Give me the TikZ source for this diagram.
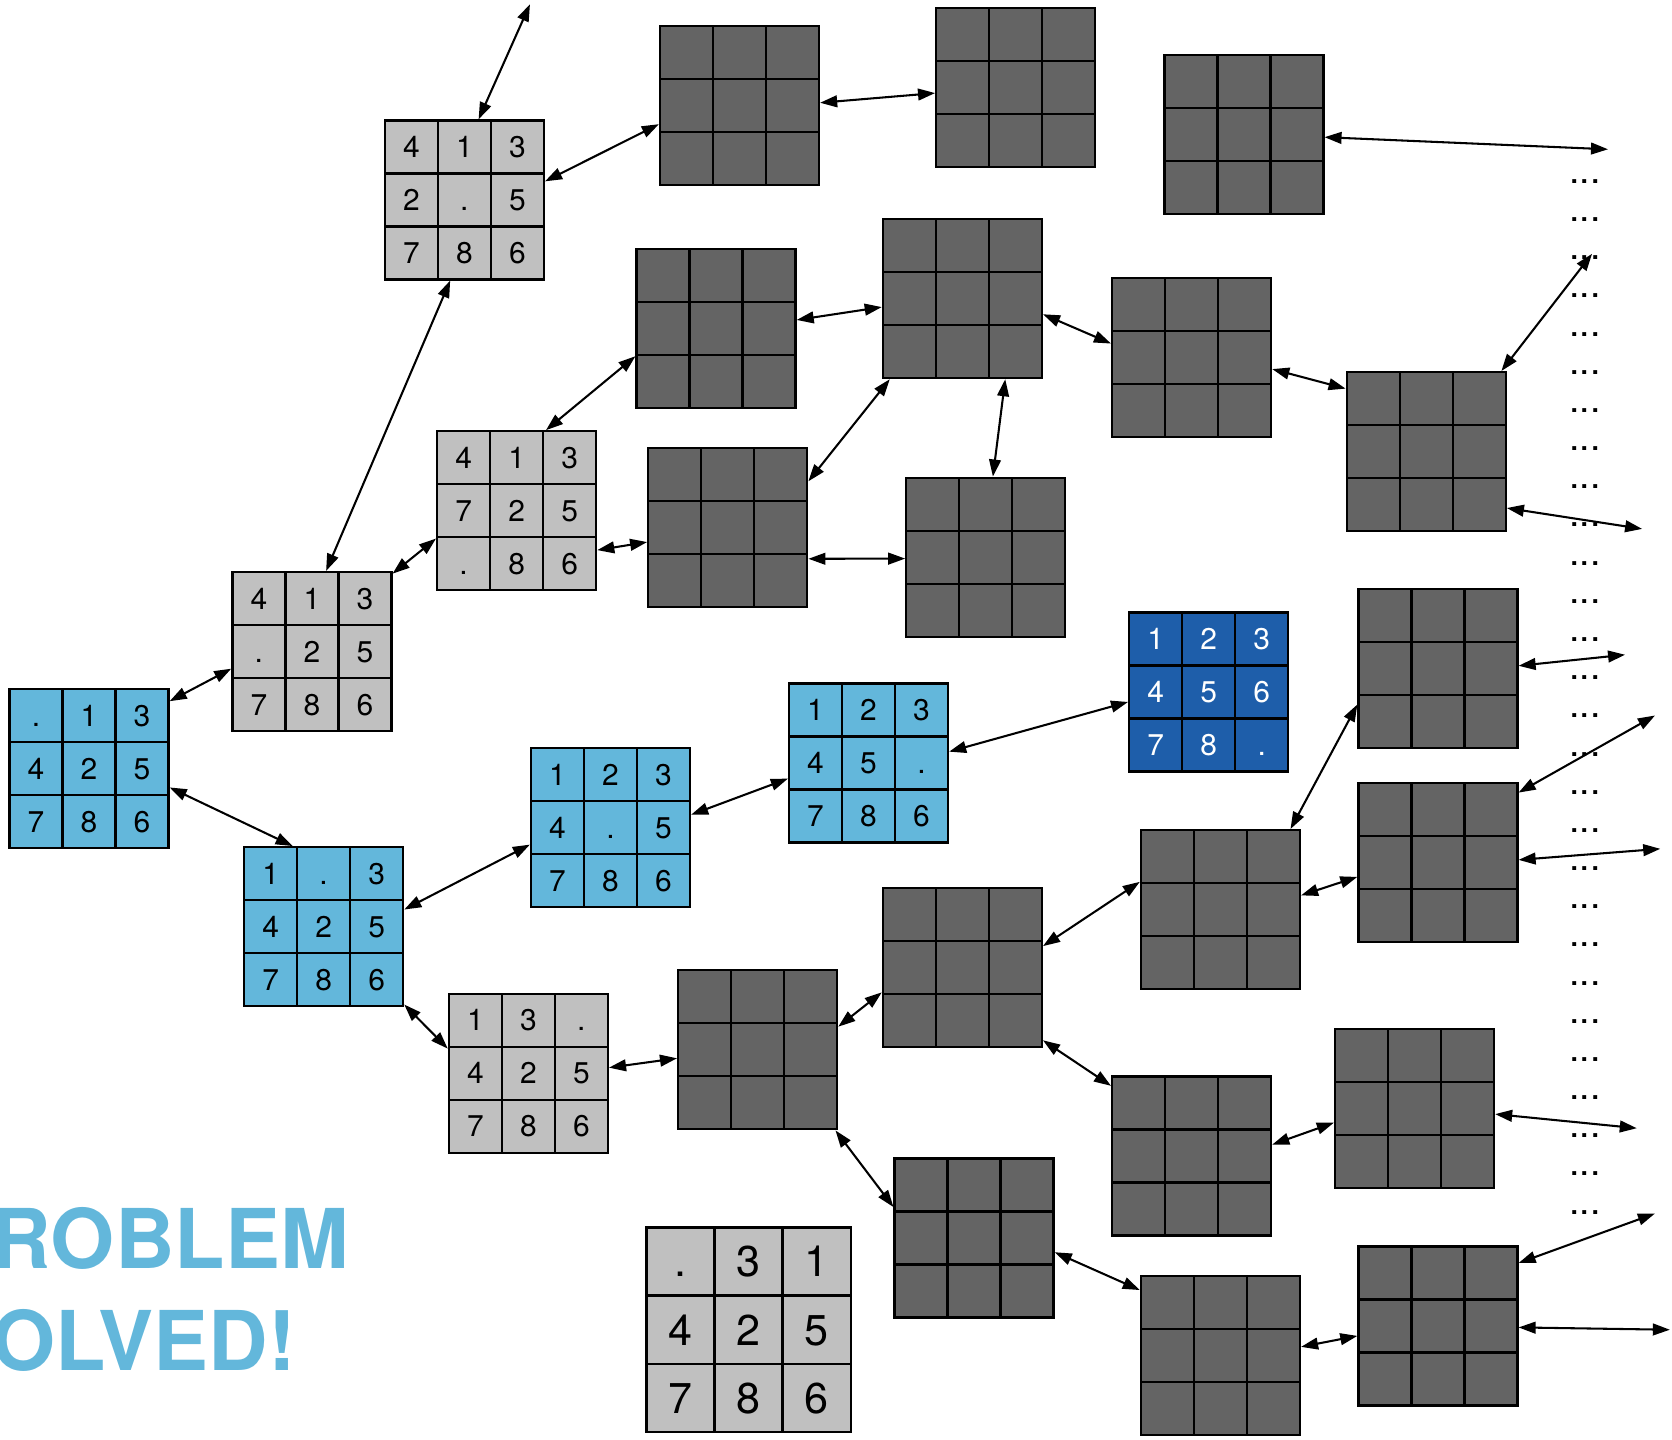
\documentclass[tikz,border=0pt]{standalone}
\usepackage{fontspec}
\setmainfont{TeX Gyre Heros}
\usetikzlibrary{arrows.meta, matrix}

\definecolor{seengray}{RGB}{192,192,192}
\definecolor{unseengray}{RGB}{100,100,100}
\definecolor{routeblue}{RGB}{99,183,219}
\definecolor{goalblue}{RGB}{30,94,170}

\begin{document}
\begin{tikzpicture}[
    tile/.style={draw, line width=0.6pt, minimum size=4.97mm, inner sep=0pt, outer sep=0pt, text height=2mm, text depth=0pt, font=\fontsize{8}{9}\selectfont},
    board/.style={matrix of nodes, inner sep=0pt, outer sep=0pt, column sep=-0.6pt, row sep=-0.6pt, nodes={tile}},
    seen/.style={board, nodes={fill=seengray}},
    route/.style={board, nodes={fill=routeblue}},
    goalboard/.style={board, nodes={fill=goalblue, text=white}},
    unseen/.style={board, nodes in empty cells, nodes={fill=unseengray}},
    arrow/.style={line width=0.55pt, {Triangle[length=1.6mm, width=1.1mm]}-{Triangle[length=1.6mm, width=1.1mm]}},
    more/.style={font=\fontsize{10}{12}\selectfont, inner sep=0pt, anchor=base},
    banner/.style={font=\fontsize{22}{26}\selectfont\bfseries, text=routeblue, inner sep=0pt, anchor=base west}
]
\useasboundingbox (0,0) rectangle (15.68,-13.50);

\matrix (start) [route] at (0.835,-7.21) {. & 1 & 3\\ 4 & 2 & 5\\ 7 & 8 & 6\\};
\matrix (r1) [route] at (3.035,-8.69) {1 & . & 3\\ 4 & 2 & 5\\ 7 & 8 & 6\\};
\matrix (r2) [route] at (5.725,-7.76) {1 & 2 & 3\\ 4 & . & 5\\ 7 & 8 & 6\\};
\matrix (r3) [route] at (8.145,-7.155) {1 & 2 & 3\\ 4 & 5 & .\\ 7 & 8 & 6\\};
\matrix (goal) [goalboard] at (11.335,-6.49) {1 & 2 & 3\\ 4 & 5 & 6\\ 7 & 8 & .\\};

\matrix (u1) [seen] at (2.925,-6.11) {4 & 1 & 3\\ . & 2 & 5\\ 7 & 8 & 6\\};
\matrix (u2) [seen] at (4.355,-1.875) {4 & 1 & 3\\ 2 & . & 5\\ 7 & 8 & 6\\};
\matrix (u3) [seen] at (4.845,-4.79) {4 & 1 & 3\\ 7 & 2 & 5\\ . & 8 & 6\\};
\matrix (v1) [seen] at (4.955,-10.065) {1 & 3 & .\\ 4 & 2 & 5\\ 7 & 8 & 6\\};
\matrix (lone) [seen, column sep=-0.7pt, row sep=-0.7pt, nodes={minimum size=6.4mm, text height=2.9mm, line width=0.7pt, font=\fontsize{11.5}{13}\selectfont}] at (7.02,-12.47) {. & 3 & 1\\ 4 & 2 & 5\\ 7 & 8 & 6\\};

\matrix (d1) [unseen] at (6.935,-0.99) {&&\\&&\\&&\\};
\matrix (d2) [unseen] at (9.525,-0.82) {&&\\&&\\&&\\};
\matrix (d3) [unseen] at (11.665,-1.26) {&&\\&&\\&&\\};
\matrix (d4) [unseen] at (6.715,-3.08) {&&\\&&\\&&\\};
\matrix (d5) [unseen] at (9.025,-2.80) {&&\\&&\\&&\\};
\matrix (d6) [unseen] at (11.175,-3.355) {&&\\&&\\&&\\};
\matrix (d7) [unseen] at (13.375,-4.235) {&&\\&&\\&&\\};
\matrix (d8) [unseen] at (6.825,-4.95) {&&\\&&\\&&\\};
\matrix (d9) [unseen] at (9.245,-5.225) {&&\\&&\\&&\\};
\matrix (d10) [unseen] at (13.485,-6.27) {&&\\&&\\&&\\};
\matrix (d11) [unseen] at (13.485,-8.09) {&&\\&&\\&&\\};
\matrix (d12) [unseen] at (11.445,-8.53) {&&\\&&\\&&\\};
\matrix (d13) [unseen] at (9.025,-9.075) {&&\\&&\\&&\\};
\matrix (d14) [unseen] at (7.105,-9.845) {&&\\&&\\&&\\};
\matrix (d15) [unseen] at (11.175,-10.84) {&&\\&&\\&&\\};
\matrix (d16) [unseen] at (13.265,-10.395) {&&\\&&\\&&\\};
\matrix (d17) [unseen] at (9.135,-11.61) {&&\\&&\\&&\\};
\matrix (d18) [unseen] at (11.445,-12.71) {&&\\&&\\&&\\};
\matrix (d19) [unseen] at (13.485,-12.435) {&&\\&&\\&&\\};

\foreach \i in {0,...,27}
    \node [more] (etc\i) at (14.865,{-1.72-0.358*\i}) {...};

\coordinate (away1) at (4.97,-0.04);
\coordinate (away2) at (15.08,-1.40);
\coordinate (away3) at (14.93,-2.38);
\coordinate (away4) at (15.40,-4.96);
\coordinate (away5) at (15.24,-6.14);
\coordinate (away6) at (15.52,-6.71);
\coordinate (away7) at (15.57,-7.96);
\coordinate (away8) at (15.35,-10.58);
\coordinate (away9) at (15.52,-11.38);
\coordinate (away10) at (15.66,-12.47);

\draw [arrow] (u2.80) -- (away1);
\draw [arrow] (u2.13) -- (d1.193);
\draw [arrow] (u2.260) -- (u1.80);
\draw [arrow] (d1.2) -- (d2.184);
\draw [arrow] (d3.358) -- (away2);
\draw [arrow] (u3.70) -- (d4.199);
\draw [arrow] (d4.6) -- (d5.186);
\draw [arrow] (d5.349) -- (d6.170);
\draw [arrow] (d6.352) -- (d7.142);
\draw [arrow] (d7.47) -- (away3);
\draw [arrow] (d7.325) -- (away4);
\draw [arrow] (u1.44) -- (u3.199);
\draw [arrow] (u3.334) -- (d8.190);
\draw [arrow] (d8.30) -- (d5.228);
\draw [arrow] (d5.298) -- (d9.85);
\draw [arrow] (d8.339) -- (d9.181);

\draw [arrow] (start.40) -- (u1.192);
\draw [arrow] (start.347) -- (r1.111);
\draw [arrow] (r1.12) -- (r2.192);
\draw [arrow] (r2.9) -- (r3.191);
\draw [arrow] (r3.8) -- (goal.187);

\draw [arrow] (d10.2) -- (away5);
\draw [arrow] (d12.49) -- (d10.204);
\draw [arrow] (d11.41) -- (away6);
\draw [arrow] (d11.2) -- (away7);
\draw [arrow] (d12.10) -- (d11.190);
\draw [arrow] (d13.15) -- (d12.161);
\draw [arrow] (r1.316) -- (v1.163);
\draw [arrow] (v1.4) -- (d14.186);
\draw [arrow] (d14.16) -- (d13.197);
\draw [arrow] (d13.318) -- (d15.139);
\draw [arrow] (d15.8) -- (d16.190);
\draw [arrow] (d16.356) -- (away8);
\draw [arrow] (d14.314) -- (d17.159);
\draw [arrow] (d17.350) -- (d18.141);
\draw [arrow] (d18.6) -- (d19.187);
\draw [arrow] (d19.38) -- (away9);
\draw [arrow] (d19.359) -- (away10);

\node [banner] (problem) at (-0.60,-11.90) {PROBLEM};
\node [banner] (solved) at (-0.60,-12.85) {SOLVED!};
\end{tikzpicture}
\end{document}
